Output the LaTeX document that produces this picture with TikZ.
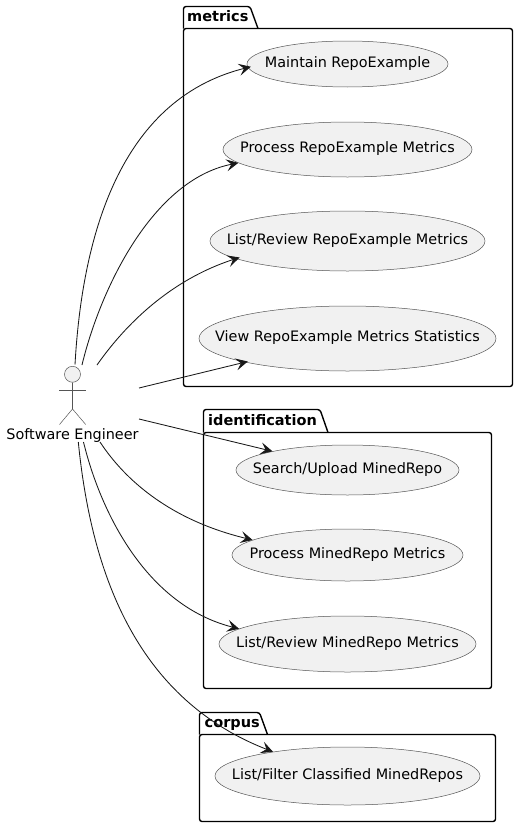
\documentclass[tikz,border=0pt]{standalone}
\usepackage{fontspec}
\setmainfont{DejaVu Sans}
\usetikzlibrary{shapes.geometric,arrows.meta}
\definecolor{ink}{HTML}{181818}
\definecolor{hair}{HTML}{555555}
\definecolor{ucfill}{HTML}{F1F1F1}
\newcommand{\uctext}[1]{\raisebox{-3pt}[0pt][0pt]{\makebox[0pt][c]{#1}}}
\newcommand{\pkgshape}[6]{% left,right,top of tab,top of body,bottom,tab right
  \draw[pkgline,rounded corners=2.5pt] (#1,#4) -- (#1,#3) -- (#6,#3) -- ([xshift=8pt]#6,#4);
  \draw[pkgline,rounded corners=2.5pt] (#1,#4) -- (#2,#4) -- (#2,#5) -- (#1,#5) -- cycle;
}
\tikzset{
  pkgline/.style={draw=black,line width=1.4pt},
  pkglabel/.style={font=\fontsize{14.5}{16}\selectfont\bfseries,anchor=base west,inner sep=0pt,text=black},
  usecase/.style={ellipse,draw=hair,line width=0.5pt,fill=ucfill,inner sep=0pt,font=\fontsize{14.4}{16}\selectfont,text=black},
  actorline/.style={draw=hair,line width=0.5pt},
  link/.style={draw=ink,line width=0.85pt,-{Stealth[length=12pt,width=12pt,inset=5pt]}}
}
\begin{document}
\begin{tikzpicture}[x=1pt,y=-1pt]
\useasboundingbox (0,0) rectangle (518,827);
% packages
\pkgshape{183.5}{512.5}{6.5}{28.5}{386.5}{250}
\node[pkglabel] (lmetrics) at (187,21.5) {metrics};
\pkgshape{203.5}{491.5}{409.5}{432.5}{688.5}{320}
\node[pkglabel] (lident) at (208,425) {identification};
\pkgshape{199.5}{495.5}{712.5}{734.5}{821.5}{259.5}
\node[pkglabel] (lcorpus) at (204.5,727) {corpus};
% use cases
\node[usecase,minimum width=201pt,minimum height=46pt] (u1) at (347.5,64) {\uctext{Maintain RepoExample}};
\node[usecase,minimum width=249pt,minimum height=55pt] (u2) at (347.5,149.5) {\uctext{Process RepoExample Metrics}};
\node[usecase,minimum width=275pt,minimum height=60pt] (u3) at (347.5,241) {\uctext{List/Review RepoExample Metrics}};
\node[usecase,minimum width=297pt,minimum height=65pt] (u4) at (347.5,338.5) {\uctext{View RepoExample Metrics Statistics}};
\node[usecase,minimum width=223pt,minimum height=50pt] (u5) at (347.5,470) {\uctext{Search/Upload MinedRepo}};
\node[usecase,minimum width=231pt,minimum height=52pt] (u6) at (347.5,555) {\uctext{Process MinedRepo Metrics}};
\node[usecase,minimum width=257pt,minimum height=56pt] (u7) at (347.5,644) {\uctext{List/Review MinedRepo Metrics}};
\node[usecase,minimum width=265pt,minimum height=58pt] (u8) at (347.5,776) {\uctext{List/Filter Classified MinedRepos}};
% actor
\node[circle,actorline,fill=ucfill,minimum size=16pt,inner sep=0pt] (head) at (72.5,374.3) {};
\coordinate (hip) at (72.5,409);
\coordinate (armL) at (59.3,390.7);
\coordinate (armR) at (85.7,390.7);
\coordinate (legL) at (59.5,424.5);
\coordinate (legR) at (85.7,424.5);
\draw[actorline] (head.south) -- (hip);
\draw[actorline] (armL) -- (armR);
\draw[actorline] (legL) -- (hip) -- (legR);
\node[font=\fontsize{14.4}{16}\selectfont,anchor=base,inner sep=0pt,text=black] (actorname) at (72.5,439) {Software Engineer};
% connector starts
\coordinate (s1) at (75,364.5);
\coordinate (s2) at (82,365);
\coordinate (s3) at (97,365);
\coordinate (s4) at (139,388);
\coordinate (s5) at (139,419);
\coordinate (s6) at (100,442);
\coordinate (s7) at (83.5,442);
\coordinate (s8) at (78.3,442);
% connectors
\draw[link,shorten >=-3pt] (s1) .. controls (82,240) and (118,100) .. (u1.182.9);
\draw[link] (s2) .. controls (100,290) and (152,180) .. (u2.187);
\draw[link,shorten >=-4pt] (s3) .. controls (125,325) and (170,280) .. (u3.189.5);
\draw[link,shorten >=-3pt] (s4) -- (u4.193.3);
\draw[link] (s5) -- (u5.166.6);
\draw[link] (s6) .. controls (125,480) and (170,520) .. (u6.171.8);
\draw[link] (s7) .. controls (100,510) and (145,605) .. (u7.172.2);
\draw[link] (s8) .. controls (92,580) and (140,700) .. (u8.162.4);
\end{tikzpicture}
\end{document}
